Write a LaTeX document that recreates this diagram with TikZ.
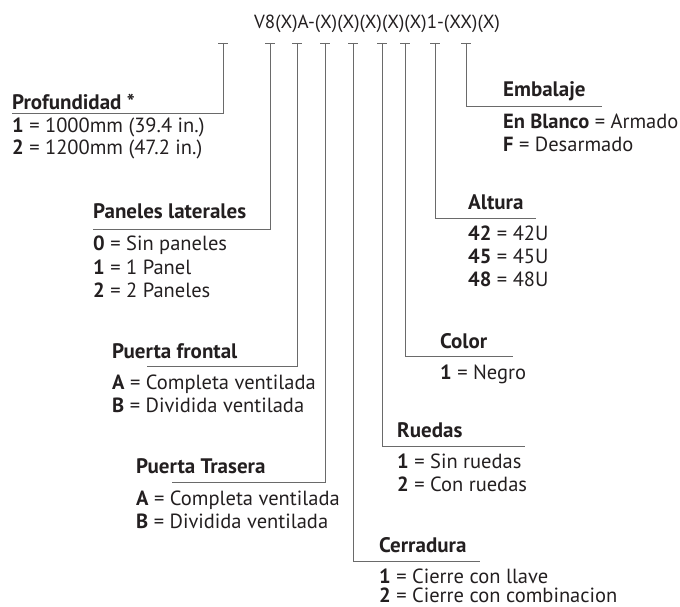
\documentclass[tikz,border=0pt]{standalone}
\usepackage{fontspec}
\setmainfont{PT Sans}
\definecolor{txt}{HTML}{231F20}
\definecolor{ln}{HTML}{6A6A6A}
\begin{document}
\begin{tikzpicture}[x=1pt,y=-1pt,
  conn/.style={draw=ln,line width=0.9pt},
  ttl/.style={anchor=base west,inner sep=0pt,font=\fontsize{21}{24}\selectfont\bfseries,text=txt},
  itm/.style={anchor=base west,inner sep=0pt,font=\fontsize{20.5}{24}\selectfont,text=txt},
  code/.style={anchor=base,inner sep=0pt,font=\fontsize{19}{23}\selectfont,text=txt}]
\useasboundingbox (0,0) rectangle (680,607);

\node[code] (code) at (377,29) {V8(X)A-(X)(X)(X)(X)(X)1-(XX)(X)};

% tick tops
\foreach \n/\x in {p/223,pl/270,pf/297,pt/325,ce/353,ru/382,co/405,al/435,em/466}{
  \coordinate (t\n) at (\x,43);
  \draw[conn] ([xshift=-5pt]t\n) -- ([xshift=5pt]t\n);
}

% Profundidad
\node[ttl] (pT) at (12,110) {Profundidad *};
\node[itm] (p1) at (12,132) {\textbf{1} = 1000mm (39.4 in.)};
\node[itm] (p2) at (12,155) {\textbf{2} = 1200mm (47.2 in.)};
\coordinate (cp) at (223,113); \coordinate (ep) at (12,113);
\draw[conn] (tp) -- (cp) -- (ep);

% Paneles laterales
\node[ttl] (plT) at (93,218) {Paneles laterales};
\node[itm] (pl0) at (93,250) {\textbf{0} = Sin paneles};
\node[itm] (pl1) at (93,274) {\textbf{1} = 1 Panel};
\node[itm] (pl2) at (93,297) {\textbf{2} = 2 Paneles};
\coordinate (cpl) at (270,229); \coordinate (epl) at (93,229);
\draw[conn] (tpl) -- (cpl) -- (epl);

% Puerta frontal
\node[ttl] (pfT) at (112,358) {Puerta frontal};
\node[itm] (pfA) at (112,389) {\textbf{A} = Completa ventilada};
\node[itm] (pfB) at (112,412) {\textbf{B} = Dividida ventilada};
\coordinate (cpf) at (297,366); \coordinate (epf) at (147,366);
\draw[conn] (tpf) -- (cpf) -- (epf);

% Puerta Trasera
\node[ttl] (ptT) at (136,473) {Puerta Trasera};
\node[itm] (ptA) at (136,505) {\textbf{A} = Completa ventilada};
\node[itm] (ptB) at (136,528) {\textbf{B} = Dividida ventilada};
\coordinate (cpt) at (325,482); \coordinate (ept) at (172,482);
\draw[conn] (tpt) -- (cpt) -- (ept);

% Cerradura
\node[ttl] (ceT) at (379,552) {Cerradura};
\node[itm] (ce1) at (379,583) {\textbf{1} = Cierre con llave};
\node[itm] (ce2) at (379,602) {\textbf{2} = Cierre con combinacion};
\coordinate (cce) at (353,561); \coordinate (ece) at (480,561);
\draw[conn] (tce) -- (cce) -- (ece);

% Ruedas
\node[ttl] (ruT) at (397,437) {Ruedas};
\node[itm] (ru1) at (397,468) {\textbf{1} = Sin ruedas};
\node[itm] (ru2) at (397,491) {\textbf{2} = Con ruedas};
\coordinate (cru) at (382,446); \coordinate (eru) at (525,446);
\draw[conn] (tru) -- (cru) -- (eru);

% Color
\node[ttl] (coT) at (440,348) {Color};
\node[itm] (co1) at (440,379) {\textbf{1} = Negro};
\coordinate (cco) at (405,356); \coordinate (eco) at (513,356);
\draw[conn] (tco) -- (cco) -- (eco);

% Altura
\node[ttl] (alT) at (468,209) {Altura};
\node[itm] (al1) at (468,240) {\textbf{42} = 42U};
\node[itm] (al2) at (468,263) {\textbf{45} = 45U};
\node[itm] (al3) at (468,286) {\textbf{48} = 48U};
\coordinate (cal) at (435,218); \coordinate (eal) at (536,218);
\draw[conn] (tal) -- (cal) -- (eal);

% Embalaje
\node[ttl] (emT) at (503,97) {Embalaje};
\node[itm] (em1) at (503,129) {\textbf{En Blanco} = Armado};
\node[itm] (em2) at (503,151) {\textbf{F} = Desarmado};
\coordinate (cem) at (466,106); \coordinate (eem) at (602,106);
\draw[conn] (tem) -- (cem) -- (eem);
\end{tikzpicture}
\end{document}
